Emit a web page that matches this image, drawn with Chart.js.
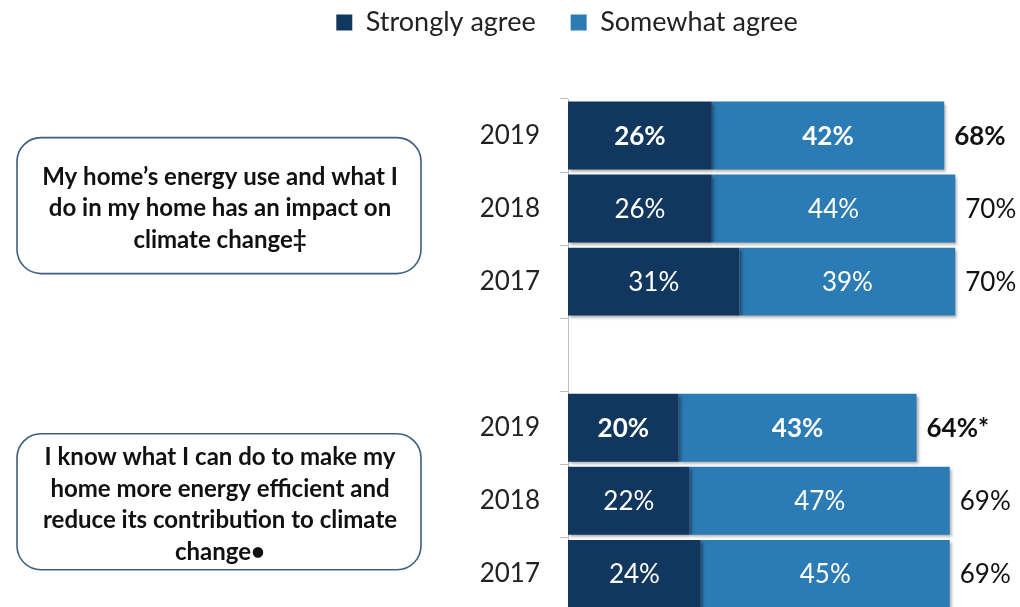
<!DOCTYPE html>
<html>
<head>
<meta charset="utf-8">
<script src="https://cdn.jsdelivr.net/npm/chart.js@4.4.1/dist/chart.umd.min.js"></script>
<style>
  html, body { margin: 0; padding: 0; background: #fff; overflow: hidden; }
  #wrap { width: 1020px; height: 646px; position: relative; }
</style>
</head>
<body>
<div id="wrap"><canvas id="agreeChart"></canvas></div>
<script>
// Survey rows, top to bottom (empty slot separates the two statements)
const years = ['2019', '2018', '2017', '', '2019', '2018', '2017'];
const stronglyAgree = [26, 26, 31, null, 20, 22, 24];
const somewhatAgree = [42, 44, 39, null, 43, 47, 45];
const totals = ['68%', '70%', '70%', '', '64%*', '69%', '69%'];
const boldRows = [0, 4];

const statements = [
    { row: 1, nudge: -3, lines: ['My home\u2019s energy use and what I', 'do in my home has an impact on', 'climate change\u2021'] },
    { row: 5, nudge: 1, lines: ['I know what I can do to make my', 'home more energy efficient and', 'reduce its contribution to climate', 'change\u2022'] }
];

const FONT = 'Lato, "Open Sans", sans-serif';
const DARK = '#12375f';
const MID = '#2b7bb5';

// soft drop shadow behind the bars
const barShadow = {
    id: 'barShadow',
    beforeDatasetsDraw(chart) {
        const ctx = chart.ctx;
        ctx.save();
        ctx.shadowColor = 'rgba(0,0,0,0.35)';
        ctx.shadowOffsetX = 2;
        ctx.shadowOffsetY = 2;
        ctx.shadowBlur = 3;
    },
    afterDatasetsDraw(chart) {
        chart.ctx.restore();
    }
};

// percent inside each segment plus the total after the bar
const valueLabels = {
    id: 'valueLabels',
    afterDatasetsDraw(chart) {
        const ctx = chart.ctx;
        ctx.save();
        ctx.textBaseline = 'middle';
        chart.data.datasets.forEach((ds, di) => {
            const meta = chart.getDatasetMeta(di);
            meta.data.forEach((bar, i) => {
                if (ds.data[i] == null) return;
                const bold = boldRows.includes(i);
                ctx.font = (bold ? 'bold ' : '') + '26px ' + FONT;
                ctx.fillStyle = '#ffffff';
                ctx.textAlign = 'center';
                ctx.fillText(ds.data[i] + '%', (bar.x + bar.base) / 2, bar.y + 1);
            });
        });
        const last = chart.getDatasetMeta(chart.data.datasets.length - 1);
        last.data.forEach((bar, i) => {
            if (!totals[i]) return;
            const bold = boldRows.includes(i);
            ctx.font = (bold ? 'bold ' : '') + '26px ' + FONT;
            ctx.fillStyle = '#111111';
            ctx.textAlign = 'left';
            ctx.fillText(totals[i], bar.x + 10, bar.y + 1);
        });
        ctx.restore();
    }
};

// rounded boxes holding the statement text
const statementBoxes = {
    id: 'statementBoxes',
    afterDraw(chart) {
        const ctx = chart.ctx;
        const yScale = chart.scales.y;
        ctx.save();
        statements.forEach(s => {
            const cy = yScale.getPixelForValue(s.row) + s.nudge;
            const h = 136, left = 17, right = 421;
            const top = cy - h / 2;
            ctx.beginPath();
            ctx.roundRect(left, top, right - left, h, 24);
            ctx.lineWidth = 1.6;
            ctx.strokeStyle = '#3d5f80';
            ctx.fillStyle = '#ffffff';
            ctx.fill();
            ctx.stroke();
            ctx.font = 'bold 24px ' + FONT;
            ctx.fillStyle = '#111111';
            ctx.textAlign = 'center';
            ctx.textBaseline = 'middle';
            const lh = 31.5;
            const startY = cy + 3 - (s.lines.length - 1) * lh / 2;
            s.lines.forEach((line, k) => {
                ctx.fillText(line, (left + right) / 2 + 1, startY + k * lh);
            });
        });
        ctx.restore();
    }
};

const ctx = document.getElementById('agreeChart').getContext('2d');
new Chart(ctx, {
    type: 'bar',
    data: {
        labels: years,
        datasets: [
            { label: 'Strongly agree', data: stronglyAgree, backgroundColor: DARK, barPercentage: 0.93, categoryPercentage: 1 },
            { label: 'Somewhat agree', data: somewhatAgree, backgroundColor: MID, barPercentage: 0.93, categoryPercentage: 1 }
        ]
    },
    options: {
        indexAxis: 'y',
        responsive: true,
        maintainAspectRatio: false,
        animation: false,
        layout: { padding: { left: 114, top: -26, right: 0, bottom: 0 } },
        plugins: {
            legend: {
                position: 'top',
                labels: {
                    boxWidth: 16,
                    boxHeight: 16,
                    padding: 35,
                    color: '#222222',
                    font: { family: FONT, size: 27 }
                }
            },
            tooltip: { enabled: false }
        },
        scales: {
            x: {
                stacked: true,
                position: 'top',
                min: 0,
                max: 81.7,
                ticks: { display: false },
                grid: { display: false },
                border: { display: false },
                afterFit(scale) { scale.height = 53; }
            },
            y: {
                stacked: true,
                grid: { drawOnChartArea: false, tickLength: 8, color: '#bfbfbf', offset: true },
                border: { color: '#bfbfbf' },
                ticks: { color: '#222222', padding: 20, font: { family: FONT, size: 26 } },
                afterFit(scale) { scale.width = 454; }
            }
        }
    },
    plugins: [barShadow, valueLabels, statementBoxes]
});
</script>
</body>
</html>
